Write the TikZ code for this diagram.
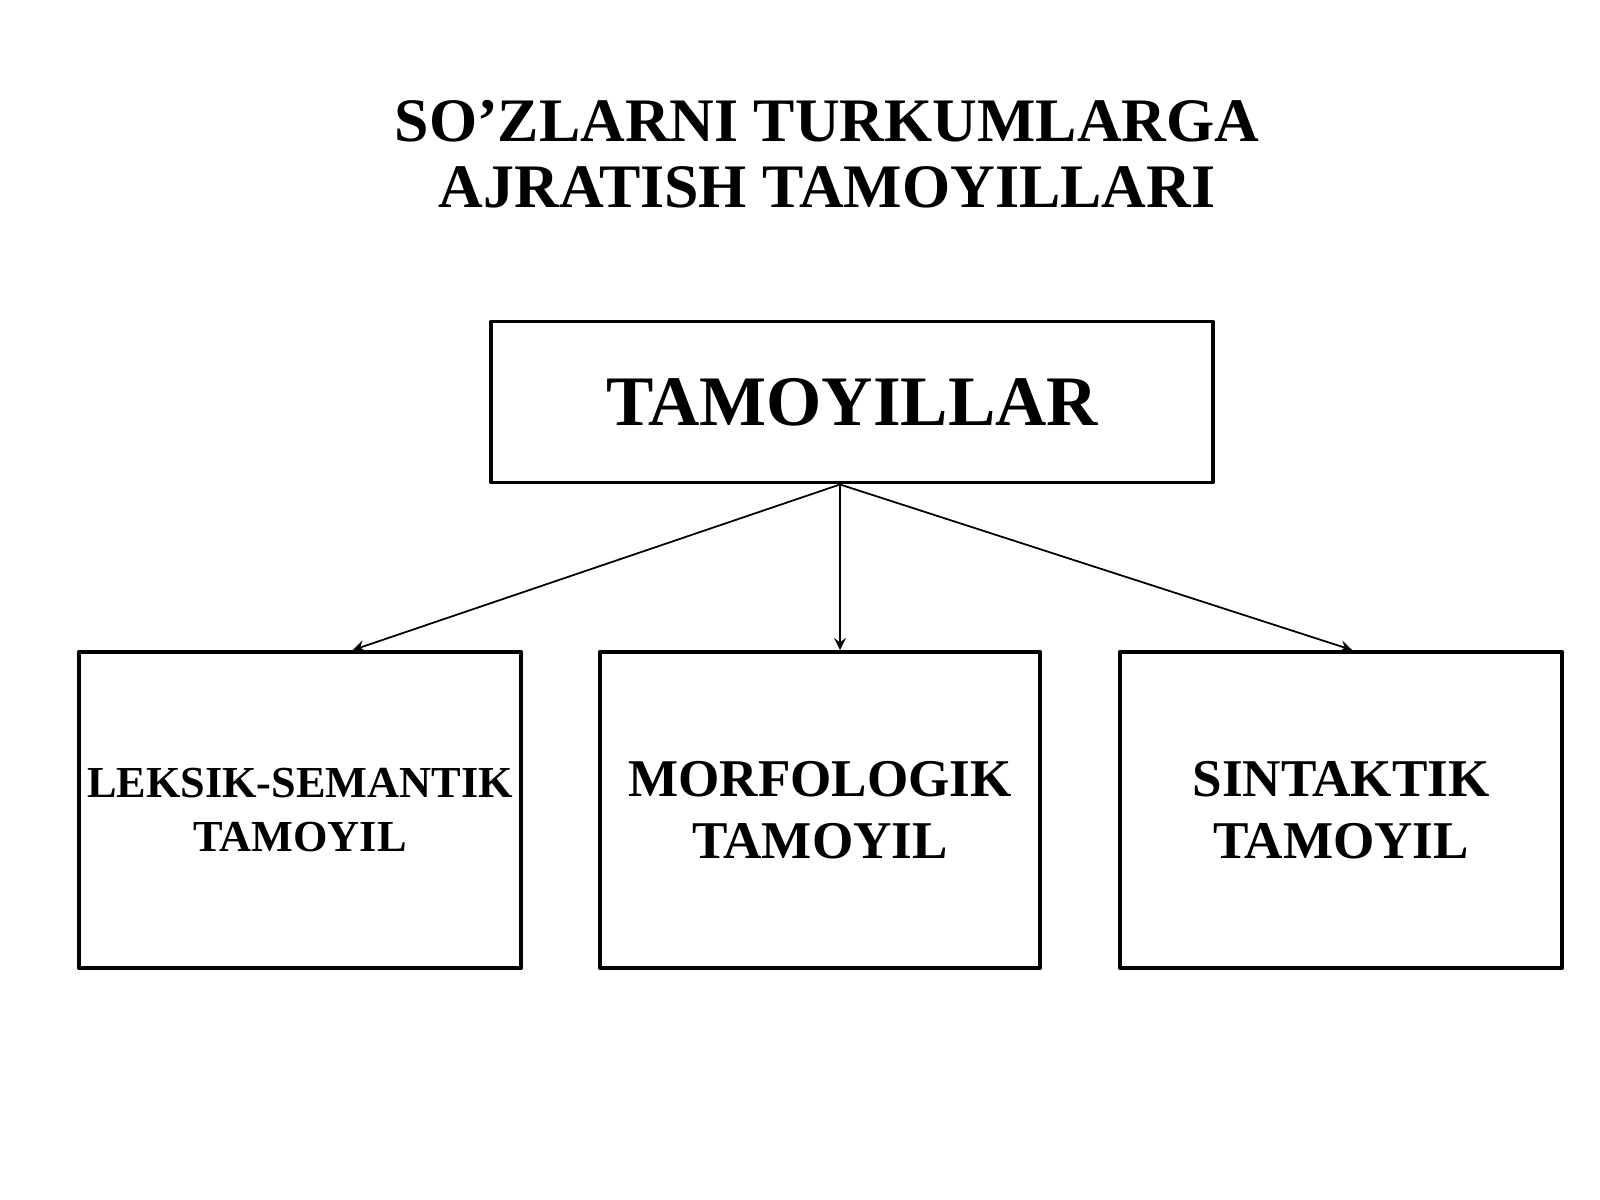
\documentclass[tikz,border=0pt]{standalone}
\usepackage{fontspec}
\setmainfont{Liberation Serif}
\usetikzlibrary{calc}
\begin{document}
\begin{tikzpicture}[x=0.01cm, y=-0.01cm, line join=round, >=stealth]
\tikzset{box/.style={draw, line width=1.1pt, inner sep=0pt, align=center},
  small box/.style={box, minimum width=4.42cm, minimum height=3.16cm,
    font=\fontsize{15.1}{17.6}\selectfont\bfseries},
  link/.style={->, line width=0.5pt}}
\useasboundingbox (0,0) rectangle (1600,1200);
\node[align=center, font=\fontsize{17.6}{18.8}\selectfont\bfseries] (title) at (827,154)
  {SO’ZLARNI TURKUMLARGA\\AJRATISH TAMOYILLARI};
\node[box, minimum width=7.21cm, minimum height=1.61cm,
  font=\fontsize{20.2}{24}\selectfont\bfseries] (top) at (852,402) {TAMOYILLAR};
\node[small box, font=\fontsize{12.6}{15.2}\selectfont\bfseries] (lex) at (300,810)
  {LEKSIK-SEMANTIK\\TAMOYIL};
\node[small box, minimum width=4.40cm] (morf) at (820,810) {MORFOLOGIK\\TAMOYIL};
\node[small box] (sint) at (1341,810) {SINTAKTIK\\TAMOYIL};
\coordinate (root) at ($(top.south)+(-12,0)$);
\draw[link] (root) -- ($(lex.north)+(53,0)$);
\draw[link] (root) -- ($(morf.north)+(20,0)$);
\draw[link] (root) -- ($(sint.north)+(11,0)$);
\end{tikzpicture}
\end{document}
